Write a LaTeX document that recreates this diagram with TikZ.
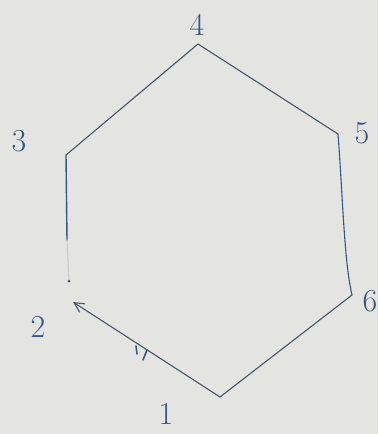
\documentclass[tikz,border=0pt]{standalone}
\usepackage{tikz}
\usepackage{xcolor}
\usetikzlibrary{arrows.meta}
\definecolor{paper}{RGB}{228,228,225}
\definecolor{ink}{RGB}{52,88,140}
\definecolor{pencil}{RGB}{70,85,110}
\tikzset{
  edge/.style={draw=pencil, line width=1.1pt, line cap=round},
  numlabel/.style={text=ink, font=\fontsize{32}{32}\selectfont, inner sep=1pt},
}

\begin{document}
\begin{tikzpicture}[x=1pt,y=-1pt]
\fill[paper] (0,0) rectangle (378,434);
\useasboundingbox (0,0) rectangle (378,434);
% corners of the hexagon
\coordinate (v1) at (220,397);
\coordinate (v2) at (69,281);
\coordinate (v3) at (66,155);
\coordinate (v4) at (198,44);
\coordinate (v5) at (338,134);
\coordinate (v6) at (352,295);
\coordinate (fade) at (67,240);
\coordinate (tip) at (73,302);
% numbers
\node[numlabel] (n1) at (166,414) {1};
\node[numlabel] (n2) at (38,327) {2};
\node[numlabel] (n3) at (19,141) {3};
\node[numlabel] (n4) at (197,25) {4};
\node[numlabel] (n5) at (362,133) {5};
\node[numlabel] (n6) at (370,301) {6};
% sides
\draw[edge] (v3) -- (v4);
\draw[edge] (v4) -- (v5);
\draw[edge, draw=ink] (v5) .. controls (343,200) and (344,260) .. (v6);
\draw[edge] (v6) -- (v1);
\draw[edge, draw=ink, line width=1.4pt] (v3) -- (fade);
\draw[edge, draw=pencil!30] (fade) -- (v2);
\fill[pencil] (v2) circle (1.5pt);
\draw[edge, -{Straight Barb[length=10pt,width=10pt]}] (v1) -- (tip);
% tick marks
\coordinate (t1a) at (136,346);
\coordinate (t1b) at (137,354);
\coordinate (t2a) at (147,350);
\coordinate (t2b) at (143,360);
\draw[edge, draw=ink, line width=1.6pt] (t1a) -- (t1b);
\draw[edge, draw=ink, line width=1.6pt] (t2a) -- (t2b);
\end{tikzpicture}
\end{document}
